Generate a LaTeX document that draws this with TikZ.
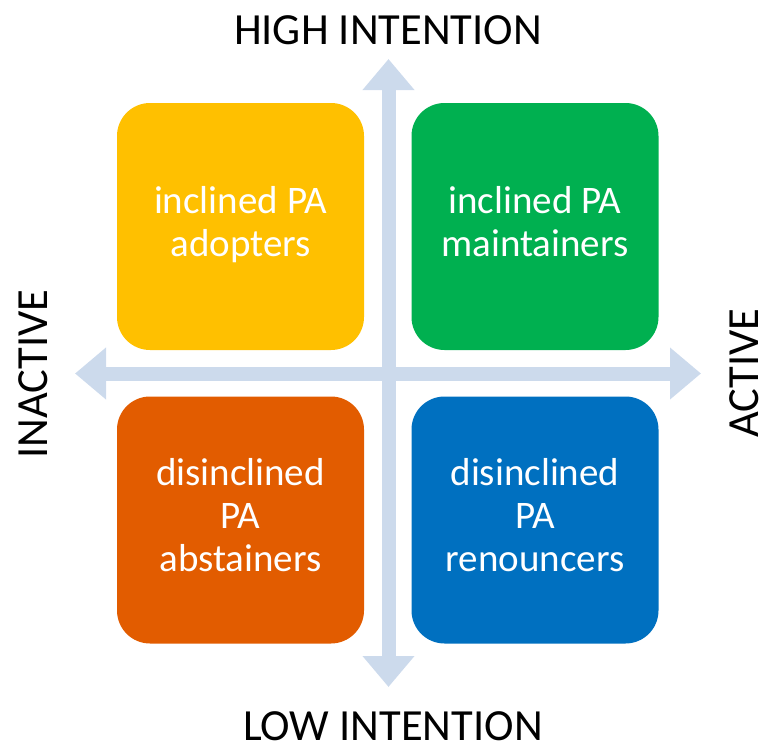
\documentclass[tikz,border=0pt]{standalone}
\usepackage{fontspec}
\setmainfont{Carlito}
\usetikzlibrary{arrows.meta}
\definecolor{adoptyellow}{RGB}{255,192,0}
\definecolor{maintgreen}{RGB}{0,176,80}
\definecolor{abstorange}{RGB}{226,92,0}
\definecolor{renounblue}{RGB}{0,112,192}
\definecolor{axisblue}{RGB}{204,218,236}
\begin{document}
\begin{tikzpicture}[x=1pt,y=-1pt,
    quad/.style={rounded corners=33pt, minimum width=247pt, minimum height=247pt, inner sep=0pt, text=white, align=center, font=\fontsize{39}{43}\selectfont},
    axislabel/.style={font=\fontsize{44.5}{50}\selectfont, anchor=base, inner sep=0pt},
    axis/.style={draw=axisblue, line width=14pt, >={Triangle[length=31pt,width=50pt]}, <->}]
    \useasboundingbox (0,0) rectangle (763,744);
            \coordinate (west) at (75,373.5);
            \coordinate (east) at (701,373.5);
            \coordinate (north) at (388.5,59);
            \coordinate (south) at (388.5,687);
            \draw[axis] (west) -- (east);
            \draw[axis] (north) -- (south);
            \node[quad, fill=adoptyellow] (adopters) at (240.5,226.5) {\strut inclined PA\\adopters\strut};
            \node[quad, fill=maintgreen] (maintainers) at (535,226.5) {\strut inclined PA\\maintainers\strut};
            \node[quad, fill=abstorange] (abstainers) at (240.5,520) {\strut disinclined\\PA\\abstainers\strut};
            \node[quad, fill=renounblue] (renouncers) at (535,520) {\strut disinclined\\PA\\renouncers\strut};
            \node[axislabel] (high) at (388,44) {HIGH INTENTION};
            \node[axislabel] (low) at (393,740) {LOW INTENTION};
            \node[axislabel, rotate=90] (inactive) at (47,374) {INACTIVE};
            \node[axislabel, rotate=90] (active) at (758,373) {ACTIVE};
        \end{tikzpicture}
\end{document}
